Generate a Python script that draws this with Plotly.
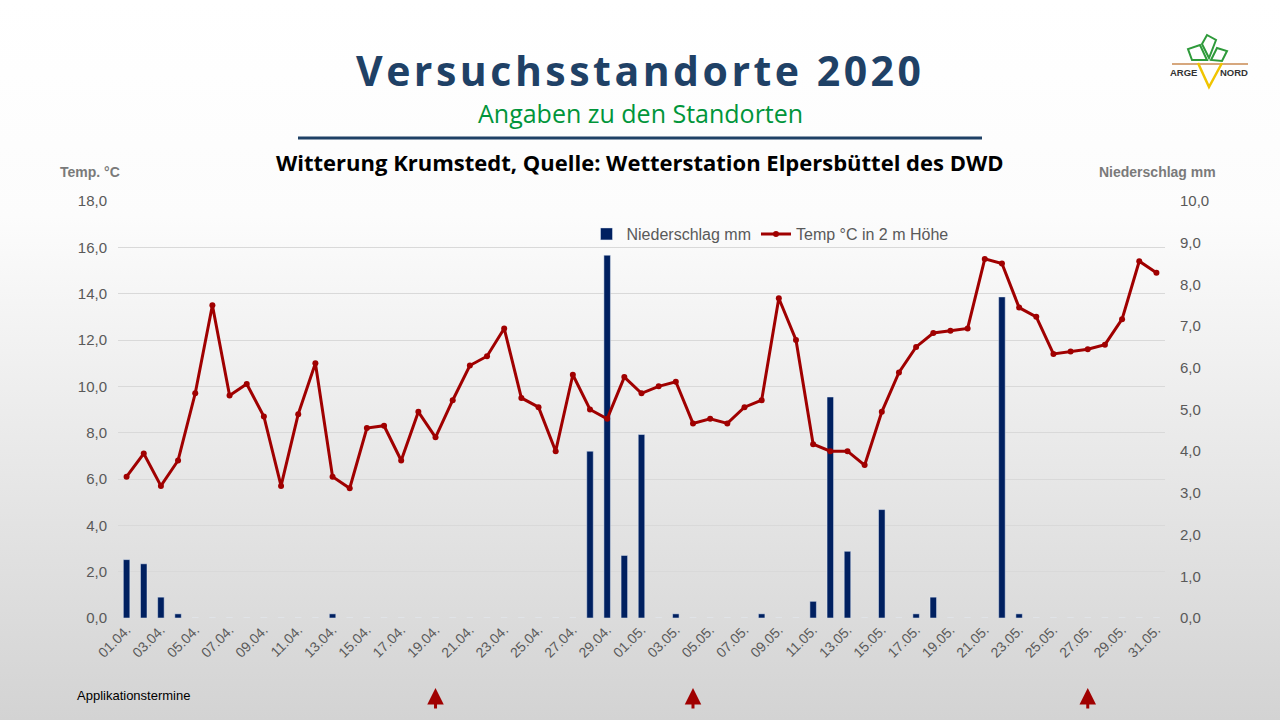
import base64
import plotly.graph_objects as go

# Kategorien (Tage)
tage_april = [f"{d:02d}.04." for d in range(1, 31)]
tage_mai = [f"{d:02d}.05." for d in range(1, 32)]
tage = tage_april + tage_mai

# Temperatur in 2 m Hoehe (Grad C)
temp_april = [6.1, 7.1, 5.7, 6.8, 9.7, 13.5, 9.6, 10.1, 8.7, 5.7, 8.8, 11.0, 6.1, 5.6, 8.2,
              8.3, 6.8, 8.9, 7.8, 9.4, 10.9, 11.3, 12.5, 9.5, 9.1, 7.2, 10.5, 9.0, 8.6, 10.4]
temp_mai = [9.7, 10.0, 10.2, 8.4, 8.6, 8.4, 9.1, 9.4, 13.8, 12.0, 7.5, 7.2, 7.2, 6.6, 8.9, 10.6,
            11.7, 12.3, 12.4, 12.5, 15.5, 15.3, 13.4, 13.0, 11.4, 11.5, 11.6, 11.8, 12.9, 15.4, 14.9]

# Niederschlag (mm)
regen_april = [1.4, 1.3, 0.5, 0.1, 0, 0, 0, 0, 0, 0, 0, 0, 0.1, 0, 0,
               0, 0, 0, 0, 0, 0, 0, 0, 0, 0, 0, 0, 4.0, 8.7, 1.5]
regen_mai = [4.4, 0, 0.1, 0, 0, 0, 0, 0.1, 0, 0, 0.4, 5.3, 1.6, 0, 2.6, 0,
             0.1, 0.5, 0, 0, 0, 7.7, 0.1, 0, 0, 0, 0, 0, 0, 0, 0]

temp = temp_april + temp_mai
regen = regen_april + regen_mai

# Applikationstermine
applikation = ["19.04.", "04.05.", "27.05."]

tick_labels = tage[::2]

# Plotbereich in Pixeln
L, R, T, B = 118, 1165, 201, 618
W, H = 1280, 720


def px(x):
    return (x - L) / (R - L)


def py(y):
    return (B - y) / (B - T)


grau = "#595959"

fig = go.Figure()
fig.add_trace(go.Bar(x=tage, y=regen, name="Niederschlag mm", marker_color="#002060",
                     width=0.38, yaxis="y"))
fig.add_trace(go.Scatter(x=tage, y=temp, name="Temp °C in 2 m Höhe", mode="lines+markers",
                         line=dict(color="#a00000", width=3), marker=dict(size=6, color="#a00000"),
                         yaxis="y2"))

# Hintergrund mit Verlauf
svg = ('<svg xmlns="http://www.w3.org/2000/svg" width="1280" height="720" preserveAspectRatio="none">'
       '<defs><linearGradient id="g" x1="0" y1="0" x2="0" y2="1">'
       '<stop offset="0" stop-color="#ffffff"/><stop offset="0.3" stop-color="#fcfcfc"/>'
       '<stop offset="1" stop-color="#d3d3d3"/></linearGradient></defs>'
       '<rect width="1280" height="720" fill="url(#g)"/></svg>')
bg = "data:image/svg+xml;base64," + base64.b64encode(svg.encode()).decode()

annos = [
    dict(text='<span style="letter-spacing:3.5px">Versuchsstandorte 2020</span>', x=px(640), y=py(70),
         font=dict(family="Open Sans", size=41, color="#1f4166", weight="bold")),
    dict(text="Angaben zu den Standorten", x=px(640), y=py(113),
         font=dict(family="Open Sans", size=25, color="#00953a")),
    dict(text="<b>Witterung Krumstedt, Quelle: Wetterstation Elpersbüttel des DWD</b>", x=px(640), y=py(162),
         font=dict(family="Open Sans", size=22, color="#000000")),
    dict(text="<b>Temp. °C</b>", x=px(58), y=py(172), xanchor="left",
         font=dict(family="Liberation Sans", size=14, color="#7a7a7a")),
    dict(text="<b>Niederschlag mm</b>", x=px(1218), y=py(172), xanchor="right",
         font=dict(family="Liberation Sans", size=14, color="#7a7a7a")),
    dict(text="Applikationstermine", x=px(75), y=py(695), xanchor="left",
         font=dict(family="Liberation Sans", size=13, color="#000000")),
    dict(text="<b>ARGE</b>", x=px(1184), y=py(73), font=dict(family="Liberation Sans", size=9.5, color="#333333")),
    dict(text="<b>NORD</b>", x=px(1234), y=py(73), font=dict(family="Liberation Sans", size=9.5, color="#333333")),
]
for a in annos:
    a.update(xref="paper", yref="paper", showarrow=False)
    a.setdefault("xanchor", "center")
    a["yanchor"] = "middle"

for d in applikation:
    annos.append(dict(x=d, xref="x", y=py(688), yref="paper", text="", showarrow=True,
                      ax=0, ay=22, arrowhead=2, arrowsize=1.1, arrowwidth=3, arrowcolor="#a00000"))

shapes = [
    dict(type="line", xref="paper", yref="paper", x0=px(298), x1=px(982), y0=py(138), y1=py(138),
         line=dict(color="#1f4166", width=3)),
    # Logo
    dict(type="line", xref="paper", yref="paper", x0=px(1172), x1=px(1248), y0=py(64), y1=py(64),
         line=dict(color="#c98a52", width=1.5)),
    dict(type="path", xref="paper", yref="paper",
         path=f"M {px(1198)},{py(63)} L {px(1209)},{py(87)} L {px(1222)},{py(63)}",
         line=dict(color="#f0c400", width=2.5)),
    dict(type="path", xref="paper", yref="paper",
         path=f"M {px(1207)},{py(60)} L {px(1192)},{py(60)} L {px(1188)},{py(49)} L {px(1200)},{py(45)} Z",
         line=dict(color="#2e9a3a", width=2)),
    dict(type="path", xref="paper", yref="paper",
         path=f"M {px(1209)},{py(58)} L {px(1202)},{py(44)} L {px(1207)},{py(35)} L {px(1216)},{py(40)} Z",
         line=dict(color="#2e9a3a", width=2)),
    dict(type="path", xref="paper", yref="paper",
         path=f"M {px(1211)},{py(60)} L {px(1217)},{py(48)} L {px(1227)},{py(51)} L {px(1222)},{py(61)} Z",
         line=dict(color="#2e9a3a", width=2)),
]

fig.update_layout(
    width=W, height=H,
    margin=dict(l=L, r=W - R, t=T, b=H - B),
    paper_bgcolor="#ffffff", plot_bgcolor="rgba(0,0,0,0)",
    separators=",.",
    font=dict(family="Liberation Sans", color=grau),
    images=[dict(source=bg, xref="paper", yref="paper", x=px(0), y=py(0), sizex=W / (R - L),
                 sizey=H / (B - T), xanchor="left", yanchor="top", sizing="stretch", layer="below")],
    xaxis=dict(type="category", range=[-0.5, len(tage) - 0.5], tickmode="array", tickvals=tick_labels,
               ticktext=tick_labels, tickangle=-45, tickfont=dict(size=14, color=grau),
               showgrid=False, showline=False, zeroline=False, ticks=""),
    yaxis=dict(range=[0, 10], dtick=1, tickformat=".1f", side="right", showgrid=False, zeroline=False,
               tickfont=dict(size=15, color=grau), ticklabelstandoff=14),
    yaxis2=dict(range=[0, 18], dtick=2, tickformat=".1f", side="left", overlaying="y", showgrid=True,
                gridcolor="#d9d9d9", gridwidth=1, zeroline=False, tickfont=dict(size=15, color=grau),
                ticklabelstandoff=10),
    legend=dict(orientation="h", x=px(770), xanchor="center", y=py(234), yanchor="middle",
                bgcolor="rgba(0,0,0,0)", font=dict(size=16, color=grau)),
    annotations=annos, shapes=shapes,
    bargap=0.6,
)

# Seitenrand entfernen, damit die Grafik bei 0,0 beginnt
fig.write_html("out.html", config={"displayModeBar": False},
               post_script="document.body.style.margin='0';")
